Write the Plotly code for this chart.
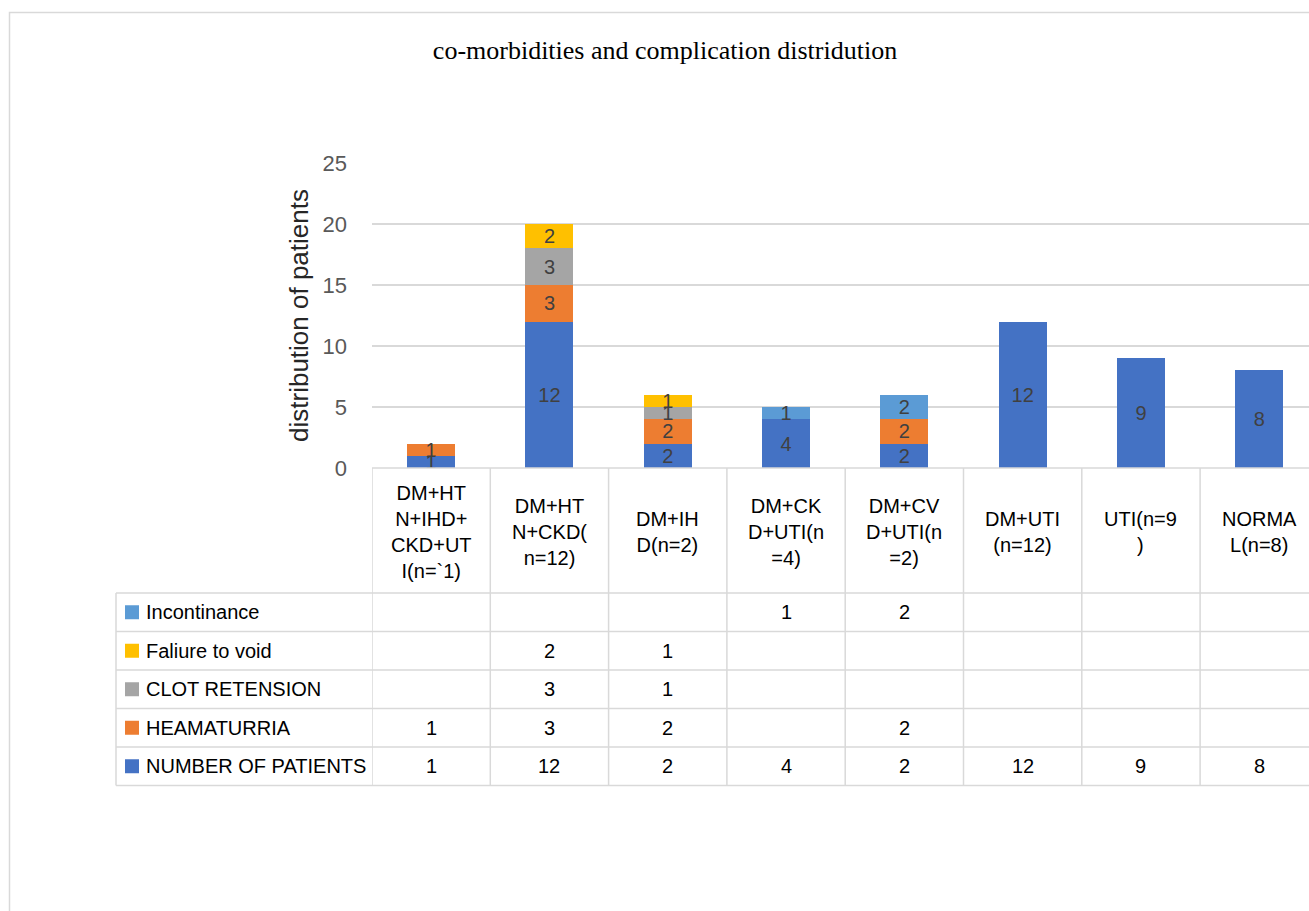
import plotly.graph_objects as go

# ---- data ----
categories = [
    "DM+HT<br>N+IHD+<br>CKD+UT<br>I(n=`1)",
    "DM+HT<br>N+CKD(<br>n=12)",
    "DM+IH<br>D(n=2)",
    "DM+CK<br>D+UTI(n<br>=4)",
    "DM+CV<br>D+UTI(n<br>=2)",
    "DM+UTI<br>(n=12)",
    "UTI(n=9<br>)",
    "NORMA<br>L(n=8)",
]
number_of_patients = [1, 12, 2, 4, 2, 12, 9, 8]
heamaturria = [1, 3, 2, None, 2, None, None, None]
clot_retension = [None, 3, 1, None, None, None, None, None]
faliure_to_void = [None, 2, 1, None, None, None, None, None]
incontinance = [None, None, None, 1, 2, None, None, None]

series_names = ["NUMBER OF PATIENTS", "HEAMATURRIA", "CLOT RETENSION",
                "Faliure to void", "Incontinance"]
series_values = [number_of_patients, heamaturria, clot_retension,
                 faliure_to_void, incontinance]
series_colors = ["#4472C4", "#ED7D31", "#A5A5A5", "#FFC000", "#5B9BD5"]

y_ticks = [0, 5, 10, 15, 20, 25]

# ---- canvas geometry (pixels) ----
W, H = 1309, 911
FONT = "Liberation Sans"
px = lambda v: v / W
py = lambda v: 1 - v / H

plot_left, plot_top, plot_bottom = 372, 163, 468
col_w = 118.3
header_bottom = 593
row_h = 38.5
legend_left = 116

x_idx = list(range(len(categories)))
x_max = (W - plot_left) / col_w - 0.5

fig = go.Figure()
for name, vals, col in zip(series_names, series_values, series_colors):
    fig.add_trace(go.Bar(
        x=x_idx, y=vals, name=name, marker=dict(color=col, line=dict(width=0)),
        width=0.405,
        text=[("" if v is None else str(v)) for v in vals],
        textposition="inside", insidetextanchor="middle", textangle=0,
        textfont=dict(family=FONT, size=20, color="#404040"),
        hoverinfo="name+y",
    ))

fig.update_layout(
    width=W, height=H, barmode="stack", showlegend=False,
    paper_bgcolor="white", plot_bgcolor="white",
    margin=dict(l=0, r=0, t=0, b=0, autoexpand=False),
    uniformtext=dict(minsize=20, mode="show"),
    font=dict(family=FONT, color="#404040"),
    title=dict(text="co-morbidities and complication distridution",
               x=px(665), xanchor="center", y=py(50), yanchor="middle",
               font=dict(family="Liberation Serif", size=26, color="#000000")),
    xaxis=dict(domain=[px(plot_left), 1], range=[-0.5, x_max], automargin=False,
               showticklabels=False, showgrid=False, zeroline=False,
               showline=False, fixedrange=True),
    yaxis=dict(domain=[py(plot_bottom), py(plot_top)], range=[0, 25], automargin=False,
               tickvals=y_ticks, showgrid=True, gridcolor="#D9D9D9", gridwidth=1.5,
               zeroline=False, showline=False, ticks="",
               ticklabelstandoff=24,
               tickfont=dict(family=FONT, size=22, color="#595959"),
               title=dict(text="distribution of patients", standoff=6,
                          font=dict(family=FONT, size=26, color="#262626"))),
)

line = dict(color="#D9D9D9", width=1.5)
shapes = []
# outer chart frame
shapes.append(dict(type="rect", xref="paper", yref="paper",
                   x0=px(9.5), x1=px(1330), y0=py(12.5), y1=py(940),
                   line=dict(color="#D9D9D9", width=1.5), fillcolor="rgba(0,0,0,0)"))
# category axis line (top of table header)
shapes.append(dict(type="line", xref="paper", yref="paper",
                   x0=px(plot_left), x1=1, y0=py(plot_bottom), y1=py(plot_bottom), line=line))
n_rows = len(series_names)
table_bottom = header_bottom + n_rows * row_h
# vertical column separators of the data table
for k in range(len(categories) + 1):
    shapes.append(dict(type="line", xref="x", yref="paper",
                       x0=k - 0.5, x1=k - 0.5, y0=py(plot_bottom), y1=py(table_bottom),
                       line=line))
# row separators
for r in range(n_rows + 1):
    yy = header_bottom + r * row_h
    shapes.append(dict(type="line", xref="paper", yref="paper",
                       x0=px(legend_left), x1=1, y0=py(yy), y1=py(yy), line=line))
shapes.append(dict(type="line", xref="paper", yref="paper",
                   x0=px(legend_left), x1=px(legend_left),
                   y0=py(header_bottom), y1=py(table_bottom), line=line))

annotations = []
# header labels
for i, c in enumerate(categories):
    annotations.append(dict(x=i, xref="x", y=py((plot_bottom + header_bottom) / 2 + 1),
                            yref="paper", text=c, showarrow=False,
                            xanchor="center", yanchor="middle", align="center",
                            font=dict(family=FONT, size=20, color="#000000")))
# table rows: top row is the last-stacked series
for r, (name, vals, col) in enumerate(zip(series_names[::-1], series_values[::-1],
                                          series_colors[::-1])):
    yc = header_bottom + (r + 0.5) * row_h
    shapes.append(dict(type="rect", xref="paper", yref="paper",
                       x0=px(125), x1=px(139), y0=py(yc - 7), y1=py(yc + 7),
                       fillcolor=col, line=dict(width=0)))
    annotations.append(dict(x=px(144), xref="paper", y=py(yc), yref="paper",
                            text=name, showarrow=False, xanchor="left", yanchor="middle",
                            font=dict(family=FONT, size=20, color="#000000")))
    for i, v in enumerate(vals):
        if v is None:
            continue
        annotations.append(dict(x=i, xref="x", y=py(yc), yref="paper", text=str(v),
                                showarrow=False, xanchor="center", yanchor="middle",
                                font=dict(family=FONT, size=20, color="#000000")))

fig.update_layout(shapes=shapes, annotations=annotations)
fig.write_html("out.html")
